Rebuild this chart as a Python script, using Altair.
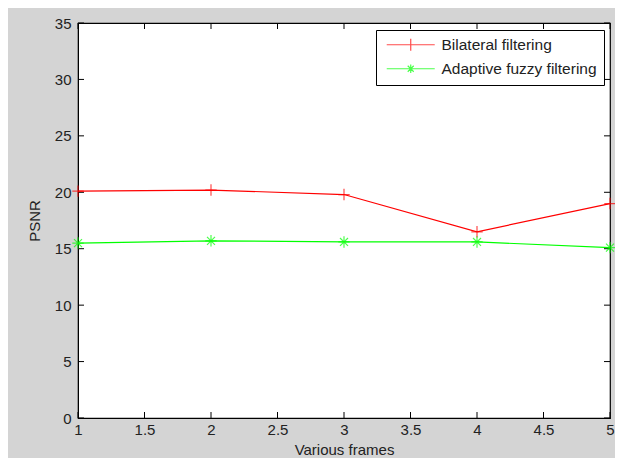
import altair as alt
import pandas as pd

frames = [1, 2, 3, 4, 5]
bilateral = [20.1, 20.2, 19.8, 16.5, 19.0]
fuzzy = [15.5, 15.7, 15.6, 15.6, 15.1]
series_names = ["Bilateral filtering", "Adaptive fuzzy filtering"]
x_ticks = [1, 1.5, 2, 2.5, 3, 3.5, 4, 4.5, 5]
y_ticks = [0, 5, 10, 15, 20, 25, 30, 35]

rows = []
for f, b in zip(frames, bilateral):
    rows.append({"frame": f, "psnr": b, "series": series_names[0]})
for f, v in zip(frames, fuzzy):
    rows.append({"frame": f, "psnr": v, "series": series_names[1]})
df = pd.DataFrame(rows)
df["marker"] = df["series"]
xt = pd.DataFrame({"t": x_ticks})
yt = pd.DataFrame({"t": y_ticks})

W, H = 532, 395
FONT = "Liberation Sans"
xscale = alt.Scale(domain=[1, 5], nice=False, zero=False)
yscale = alt.Scale(domain=[0, 35], nice=False)


def cscale():
    return alt.Scale(domain=series_names, range=["#ff0000", "#00ff00"])


CROSS = "M0,-1V1M-1,0H1"
STAR = "M0,-1V1M-1,0H1M-0.7,-0.7L0.7,0.7M-0.7,0.7L0.7,-0.7"
LEG_CROSS = "M-0.67,0H7.33M3.33,-1V1"
LEG_STAR = "M-0.67,0H7.33M3.33,-0.7V0.7M2.63,0H4.03M2.83,-0.5L3.83,0.5M2.83,0.5L3.83,-0.5"

lines = alt.Chart(df).mark_line(strokeWidth=1.2).encode(
    x=alt.X("frame:Q", scale=xscale,
            axis=alt.Axis(values=x_ticks, format="~g", title="Various frames",
                          tickSize=0, labelPadding=4, grid=False, labelFlush=False,
                          titlePadding=5)),
    y=alt.Y("psnr:Q", scale=yscale,
            axis=alt.Axis(values=y_ticks, title="PSNR", tickSize=0, labelPadding=7,
                          grid=False, titlePadding=12)),
    color=alt.Color("series:N", scale=cscale(), legend=None),
)

points = alt.Chart(df).mark_point(filled=False, strokeWidth=1.2).encode(
    x=alt.X("frame:Q", scale=xscale),
    y=alt.Y("psnr:Q", scale=yscale),
    color=alt.Color("series:N", scale=cscale(), legend=None),
    shape=alt.Shape("marker:N", scale=alt.Scale(domain=series_names, range=[CROSS, STAR]),
                    legend=None),
    size=alt.value(130),
)

leg = dict(title=None, orient="none", legendX=298, legendY=7,
           symbolSize=144, symbolStrokeWidth=1.2, labelOffset=43,
           fillColor="white", strokeColor="black", padding=7, rowPadding=7,
           offset=0)
legend_layer = alt.Chart(df).transform_filter("false").mark_point(
    filled=False, strokeWidth=1.2).encode(
    x=alt.X("frame:Q", scale=xscale),
    y=alt.Y("psnr:Q", scale=yscale),
    color=alt.Color("series:N", scale=cscale(), sort=series_names,
                    legend=alt.Legend(**leg)),
    shape=alt.Shape("series:N", sort=series_names,
                    scale=alt.Scale(domain=series_names, range=[LEG_CROSS, LEG_STAR]),
                    legend=alt.Legend(**leg)),
)

tick_len = 6
xb = alt.Chart(xt).mark_rule(color="black").encode(
    x=alt.X("t:Q", scale=xscale), y=alt.value(H), y2=alt.value(H - tick_len))
xtop = alt.Chart(xt).mark_rule(color="black").encode(
    x=alt.X("t:Q", scale=xscale), y=alt.value(0), y2=alt.value(tick_len))
yl = alt.Chart(yt).mark_rule(color="black").encode(
    y=alt.Y("t:Q", scale=yscale), x=alt.value(0), x2=alt.value(tick_len))
yr = alt.Chart(yt).mark_rule(color="black").encode(
    y=alt.Y("t:Q", scale=yscale), x=alt.value(W), x2=alt.value(W - tick_len))

chart = alt.layer(xb, xtop, yl, yr, lines, points, legend_layer).resolve_scale(
    shape="independent", color="independent"
).properties(
    width=W, height=H,
    background="#d4d4d4",
    padding={"left": 70, "top": 15, "right": 5, "bottom": 40},
    autosize=alt.AutoSizeParams(type="none"),
).configure_view(
    fill="white", stroke="black", strokeWidth=1.2
).configure_axis(
    domainColor="black", labelFont=FONT, titleFont=FONT, labelFontSize=15,
    titleFontSize=15, titleFontWeight="normal", labelColor="#222", titleColor="#222",
).configure_legend(
    labelFont=FONT, labelFontSize=15.5, labelColor="#222"
)

chart.save("out.html", embed_options={"renderer": "svg", "actions": False})
